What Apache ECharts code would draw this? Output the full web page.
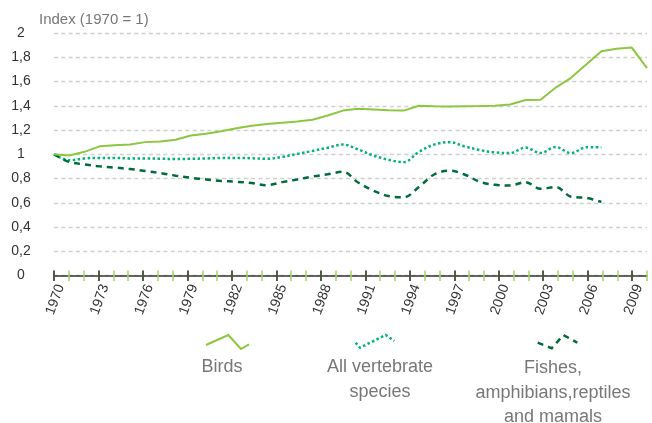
<!DOCTYPE html>
<html>
<head>
<meta charset="utf-8">
<script src="https://cdn.jsdelivr.net/npm/echarts@6/dist/echarts.min.js"></script>
<style>
  html, body { margin: 0; padding: 0; background: #fff; }
  #chart { width: 652px; height: 423px; }
</style>
</head>
<body>
<div id="chart"></div>
<script>
// data points (one per year, 1970-2009)
var dataYears = [];
for (var y = 1970; y <= 2009; y++) dataYears.push(String(y));
// axis years shown under the chart (1970-2010)
var axisYears = dataYears.concat(['2010']);

var birds = [1.00, 0.99, 1.02, 1.065, 1.075, 1.08, 1.10, 1.105, 1.12, 1.155,
             1.17, 1.19, 1.215, 1.235, 1.25, 1.26, 1.27, 1.285, 1.32, 1.36,
             1.375, 1.37, 1.362, 1.36, 1.40, 1.395, 1.393, 1.395, 1.397, 1.40,
             1.41, 1.447, 1.45, 1.55, 1.63, 1.74, 1.85, 1.87, 1.88, 1.71];
var vertebrates = [1.00, 0.95, 0.965, 0.97, 0.97, 0.965, 0.965, 0.963, 0.96, 0.963,
                   0.965, 0.97, 0.97, 0.967, 0.962, 0.978, 1.003, 1.027, 1.054, 1.08,
                   1.04, 0.99, 0.954, 0.935, 1.02, 1.08, 1.10, 1.065, 1.035, 1.015,
                   1.01, 1.055, 1.01, 1.06, 1.01, 1.057, 1.058];
var fishes = [1.00, 0.937, 0.916, 0.90, 0.89, 0.878, 0.862, 0.845, 0.823, 0.806,
              0.792, 0.78, 0.773, 0.762, 0.745, 0.77, 0.792, 0.816, 0.835, 0.855,
              0.767, 0.70, 0.655, 0.645, 0.73, 0.833, 0.865, 0.833, 0.773, 0.748,
              0.742, 0.77, 0.715, 0.73, 0.65, 0.64, 0.607];

var seriesNames = ['Birds', 'All vertebrate\nspecies', 'Fishes,\namphibians,reptiles\nand mamals'];
var colors = ['#8dc63f', '#00b37a', '#006b3c'];

var myChart = echarts.init(document.getElementById('chart'));

function every3(i) { return i % 3 === 0; }

var option = {
    animation: false,
    title: {
        text: 'Index (1970 = 1)',
        left: 34,
        top: 7,
        textStyle: { fontSize: 15, fontWeight: 'normal', color: '#777', fontFamily: 'Liberation Sans' }
    },
    grid: {
        left: 54,
        right: 5,
        top: 33,
        bottom: 147.5,
        containLabel: false,
        outerBoundsMode: 'none'
    },
    xAxis: [
        {
            // axis the lines are drawn on
            type: 'category',
            data: dataYears,
            boundaryGap: false,
            show: false
        },
        {
            // axis line + year labels
            type: 'category',
            data: axisYears,
            boundaryGap: false,
            position: 'bottom',
            axisLine: { lineStyle: { color: '#333', width: 1.5 } },
            axisTick: { show: false },
            splitLine: { show: false },
            axisLabel: {
                interval: every3,
                rotate: 70,
                margin: 7,
                verticalAlign: 'top',
                color: '#333',
                fontSize: 14,
                fontFamily: 'Liberation Sans'
            }
        },
        {
            // green yearly ticks
            type: 'category',
            data: axisYears,
            boundaryGap: false,
            position: 'bottom',
            offset: -5,
            axisLine: { show: false },
            axisTick: { interval: 0, length: 10.5, lineStyle: { color: '#a6d46a', width: 1.5 } },
            axisLabel: { show: false },
            splitLine: { show: false }
        },
        {
            // black ticks every 3 years
            type: 'category',
            data: axisYears,
            boundaryGap: false,
            position: 'bottom',
            offset: -5,
            axisLine: { show: false },
            axisTick: { interval: every3, length: 10.5, lineStyle: { color: '#333', width: 1.5 } },
            axisLabel: { show: false },
            splitLine: { show: false }
        }
    ],
    yAxis: {
        type: 'value',
        min: 0,
        max: 2,
        interval: 0.2,
        axisLine: { show: false },
        axisTick: { show: false },
        axisLabel: {
            align: 'center',
            margin: 33,
            color: '#333',
            fontSize: 14,
            fontFamily: 'Liberation Sans',
            formatter: function (v) { return String(Number(v.toFixed(1))).replace('.', ','); }
        },
        splitLine: { lineStyle: { color: '#cfcfcf', type: [4, 3.3], width: 1.3 } }
    },
    series: [
        {
            name: seriesNames[0],
            type: 'line',
            xAxisIndex: 0,
            data: birds,
            showSymbol: false,
            lineStyle: { color: colors[0], width: 2 },
            z: 4
        },
        {
            name: seriesNames[1],
            type: 'line',
            xAxisIndex: 0,
            data: vertebrates,
            smooth: 0.35,
            showSymbol: false,
            lineStyle: { color: colors[1], width: 2.5, type: [2.5, 2.5] },
            z: 3
        },
        {
            name: seriesNames[2],
            type: 'line',
            xAxisIndex: 0,
            data: fishes,
            smooth: 0.35,
            showSymbol: false,
            lineStyle: { color: colors[2], width: 2.5, type: [6, 5] },
            z: 3
        }
    ],
    graphic: [
        { type: 'polyline', shape: { points: [[206, 345], [228.3, 335], [241, 349], [249, 344.3]] },
          style: { stroke: colors[0], lineWidth: 2, fill: null } },
        { type: 'polyline', shape: { points: [[355.7, 342.7], [360, 347.7], [385.7, 335], [394.3, 341]] },
          style: { stroke: colors[1], lineWidth: 2.5, lineDash: [2.5, 2.5], fill: null } },
        { type: 'polyline', shape: { points: [[537.7, 342.7], [551.7, 348.3], [563.3, 335], [577.3, 342.7]] },
          style: { stroke: colors[2], lineWidth: 2.5, lineDash: [6, 5], fill: null } },
        { type: 'text', x: 222, y: 355,
          style: { text: seriesNames[0], fill: '#777', font: '18px "Liberation Sans"', align: 'center', lineHeight: 24.5 } },
        { type: 'text', x: 380, y: 355,
          style: { text: seriesNames[1], fill: '#777', font: '18px "Liberation Sans"', align: 'center', lineHeight: 24.5 } },
        { type: 'text', x: 553, y: 356,
          style: { text: seriesNames[2], fill: '#777', font: '18px "Liberation Sans"', align: 'center', lineHeight: 24.5 } }
    ]
};
myChart.setOption(option);
window.addEventListener('resize', function () {
    myChart.resize();
});
</script>
</body>
</html>
